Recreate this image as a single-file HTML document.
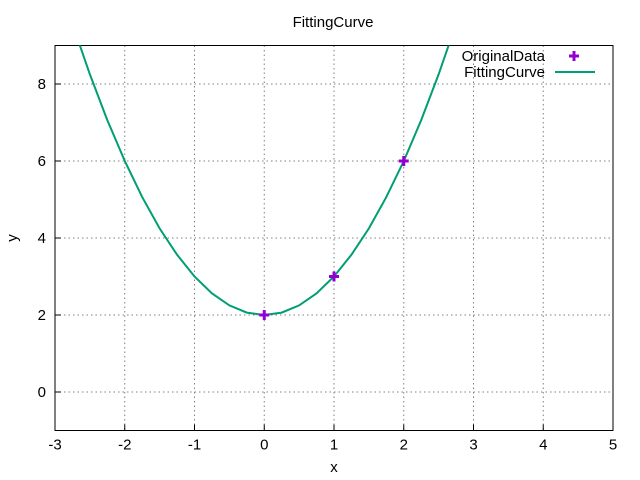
<!DOCTYPE html>
<html><head><meta charset="utf-8"><style>
body{margin:0;background:#fff;}
svg{display:block;font-family:"Liberation Sans",sans-serif;}
</style></head><body>
<svg id="chart" width="640" height="480"></svg>
<script>
const xTicks=[-3,-2,-1,0,1,2,3,4,5];
const yTicks=[0,2,4,6,8];
const dataX=[0,1,2];
const dataY=[2,3,6];
const curveX=[-3,-2.75,-2.5,-2.25,-2,-1.75,-1.5,-1.25,-1,-0.75,-0.5,-0.25,0,0.25,0.5,0.75,1,1.25,1.5,1.75,2,2.25,2.5,2.75,3];
const curveY=[11,9.5625,8.25,7.0625,6,5.0625,4.25,3.5625,3,2.5625,2.25,2.0625,2,2.0625,2.25,2.5625,3,3.5625,4.25,5.0625,6,7.0625,8.25,9.5625,11];
const L=55,R=613,T=45.5,B=430.5,xmin=-3,xmax=5,ymin=-1,ymax=9;
const sx=v=>L+(v-xmin)/(xmax-xmin)*(R-L);
const sy=v=>B-(v-ymin)/(ymax-ymin)*(B-T);
const svg=document.getElementById('chart');
const NS='http://www.w3.org/2000/svg';
function mk(t,a,txt){const e=document.createElementNS(NS,t);for(const k in a)e.setAttribute(k,a[k]);if(txt!==undefined)e.textContent=txt;svg.appendChild(e);return e;}
const defs=document.createElementNS(NS,'defs');defs.innerHTML='<clipPath id="c"><rect x="55" y="45.5" width="558" height="385"/></clipPath>';svg.appendChild(defs);
xTicks.forEach(v=>{const x=sx(v);
 if(v>xmin&&v<xmax){const g=mk('line',{x1:x,x2:x,y1:T,y2:B,stroke:'#808080','stroke-dasharray':'1.5,3','stroke-width':1});
 }
 const t=mk('line',{x1:x,x2:x,y1:B,y2:B-6,stroke:'#000'});
 const l=mk('text',{x:x,y:B+19,'text-anchor':'middle','font-size':15},String(v));
 });
yTicks.forEach(v=>{const y=sy(v);
 const g=mk('line',{x1:L,x2:R,y1:y,y2:y,stroke:'#808080','stroke-dasharray':'1.5,3','stroke-width':1});
 
 const t=mk('line',{x1:L,x2:L+6,y1:y,y2:y,stroke:'#000'});
 const l=mk('text',{x:L-9,y:y+5,'text-anchor':'end','font-size':15},String(v));
 });
const fr=mk('rect',{x:L,y:T,width:R-L,height:B-T,fill:'none',stroke:'#000'});

const pts=curveX.map((x,i)=>sx(x).toFixed(1)+','+sy(curveY[i]).toFixed(1)).join(' ');
const cv=mk('polyline',{points:pts,fill:'none',stroke:'#009e73','stroke-width':2,'clip-path':'url(#c)'});

function plus(x,y,name){const p=mk('path',{d:`M${x-5},${y}h10M${x},${y-5}v10`,stroke:'#9400d3','stroke-width':3});
 }
dataX.forEach((x,i)=>plus(sx(x),sy(dataY[i]),'data-point'));
const tt=mk('text',{x:333,y:27,'text-anchor':'middle','font-size':15},'FittingCurve');

const xl=mk('text',{x:334,y:472,'text-anchor':'middle','font-size':15},'x');

const yl=mk('text',{x:17,y:238,'text-anchor':'middle','font-size':15,transform:'rotate(-90 17 238)'},'y');

const l1=mk('text',{x:545,y:61,'text-anchor':'end','font-size':15},'OriginalData');

plus(574,56,'legend-marker-original');
const l2=mk('text',{x:545,y:77,'text-anchor':'end','font-size':15},'FittingCurve');

const ll=mk('line',{x1:555,x2:595,y1:72,y2:72,stroke:'#009e73','stroke-width':2});

</script>
</body></html>
